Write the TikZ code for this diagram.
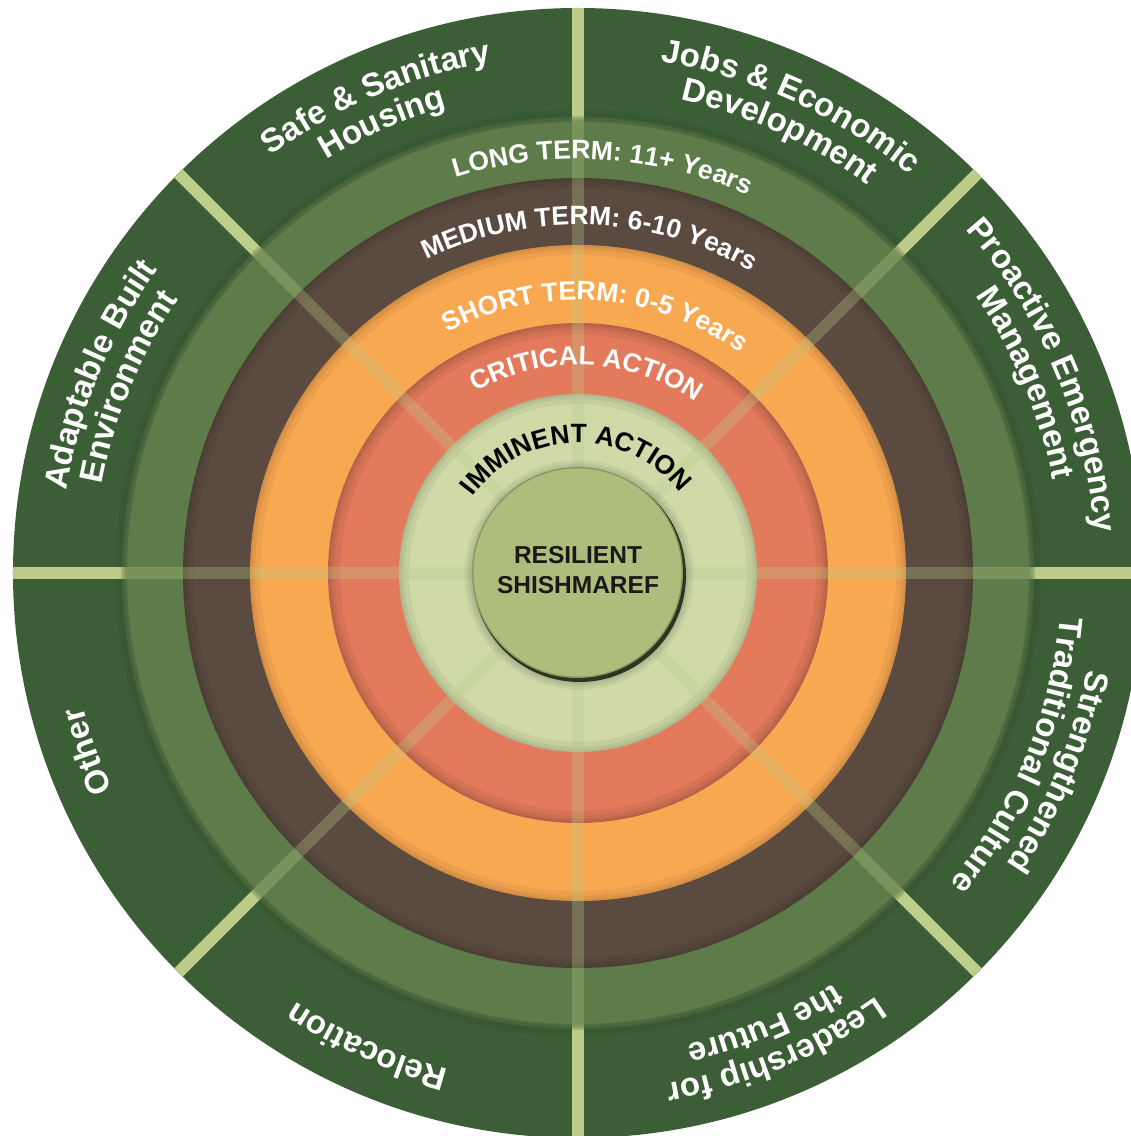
\documentclass[tikz,border=0pt]{standalone}
\usepackage{fontspec}
\setmainfont{Liberation Sans}
\usetikzlibrary{decorations.text}

\definecolor{outerG}{HTML}{3B5E36}
\definecolor{midG}{HTML}{5E7B4A}
\definecolor{brownR}{HTML}{5A4A3F}
\definecolor{orangeR}{HTML}{F9A852}
\definecolor{redR}{HTML}{E27A5B}
\definecolor{lightG}{HTML}{CFDAA8}
\definecolor{centerG}{HTML}{AEBD7C}
\definecolor{divL}{HTML}{BDCC88}
\definecolor{edgeD}{HTML}{2E3520}

% #1 baseline radius, #2 centre angle, #3 font size, #4 colour, #5 text
\newcommand\arcLabel[5]{%
  \path[decorate, decoration={text along path, text align=center,
      text color=#4,
      text={|\fontsize{#3}{#3}\selectfont\bfseries|#5}}]
    (#2+85:#1) arc[start angle=#2+85, end angle=#2-85, radius=#1];}

% soft dark rim just inside a disc of radius #1
\newcommand\discRim[1]{%
  \foreach \w in {2,5,10}
    \draw[black, opacity=0.05, line width=\w pt] (0,0) circle ({#1-\w/2});}

\tikzset{
  divider/.style={divL, line width=12pt},
  faintdiv/.style={divL, line width=12pt, opacity=0.3},
}

\begin{document}
\begin{tikzpicture}[x=1pt,y=1pt]
\useasboundingbox (-578,-563) rectangle (553,573);
\clip (-578,-563) rectangle (553,573);
\fill[white] (-578,-563) rectangle (553,573);

% outer ring with dividers
\fill[outerG] (0,0) circle (565);
\foreach \w in {6,14,24}
  \draw[black, opacity=0.05, line width=\w pt] (0,0) circle (451);
\foreach \a in {0,45,...,315} \draw[divider] (\a:445) -- (\a:565);

% time rings
\foreach \w in {4,8,12}
  \draw[midG, opacity=0.3, line width=\w pt] (0,0) circle (451);
\fill[midG] (0,0) circle (451);
\fill[brownR] (0,0) circle (395);
\discRim{395}
\fill[orangeR] (0,0) circle (328);
\discRim{328}
\fill[redR!80!black] (0,0) circle (250);
\fill[redR] (0,0) circle (248);
\discRim{248}
\fill[lightG] (0,0) circle (179);
\discRim{179}
\foreach \a in {0,45,...,315} \draw[faintdiv] (\a:100) -- (\a:451);

% centre disc
\foreach \w in {4,9,15}
  \draw[black, opacity=0.05, line width=\w pt] (1,-2) circle (107);
\fill[edgeD] (1.5,-2.5) circle (106.5);
\fill[centerG!80!black] (-0.5,0.5) circle (105.5);
\fill[centerG] (-0.5,0.5) circle (104);
\node[anchor=base, font=\fontsize{24.5}{24.5}\selectfont\bfseries, text=black!90] (core1) at (0,10) {RESILIENT};
\node[anchor=base, font=\fontsize{24.5}{24.5}\selectfont\bfseries, text=black!90] (core2) at (0,-20) {SHISHMAREF};

% ring labels
\arcLabel{414}{86.5}{26.5}{white}{LONG TERM: 11+ Years}
\arcLabel{348}{88}{26.5}{white}{MEDIUM TERM: 6-10 Years}
\arcLabel{273}{86}{26.5}{white}{SHORT TERM: 0-5 Years}
\arcLabel{208}{87.5}{26.5}{white}{CRITICAL ACTION}
\arcLabel{130}{91}{26.5}{black}{IMMINENT ACTION}

% outer sector labels
\arcLabel{518}{113}{33}{white}{Safe {\&} Sanitary}
\arcLabel{484}{113.5}{33}{white}{Housing}
\arcLabel{518}{65.5}{33}{white}{Jobs {\&} Economic}
\arcLabel{484}{65.5}{33}{white}{Development}
\arcLabel{518}{23}{33}{white}{Proactive Emergency}
\arcLabel{484}{23}{33}{white}{Management}
\arcLabel{518}{-22.5}{33}{white}{Strengthened}
\arcLabel{484}{-22.5}{33}{white}{Traditional Culture}
\arcLabel{518}{-67.5}{33}{white}{Leadership for}
\arcLabel{484}{-67.5}{33}{white}{the Future}
\arcLabel{513}{-114}{33}{white}{Relocation}
\arcLabel{513}{-160}{33}{white}{Other}
\arcLabel{518}{157.5}{33}{white}{Adaptable Built}
\arcLabel{484}{157.5}{33}{white}{Environment}
\end{tikzpicture}
\end{document}
